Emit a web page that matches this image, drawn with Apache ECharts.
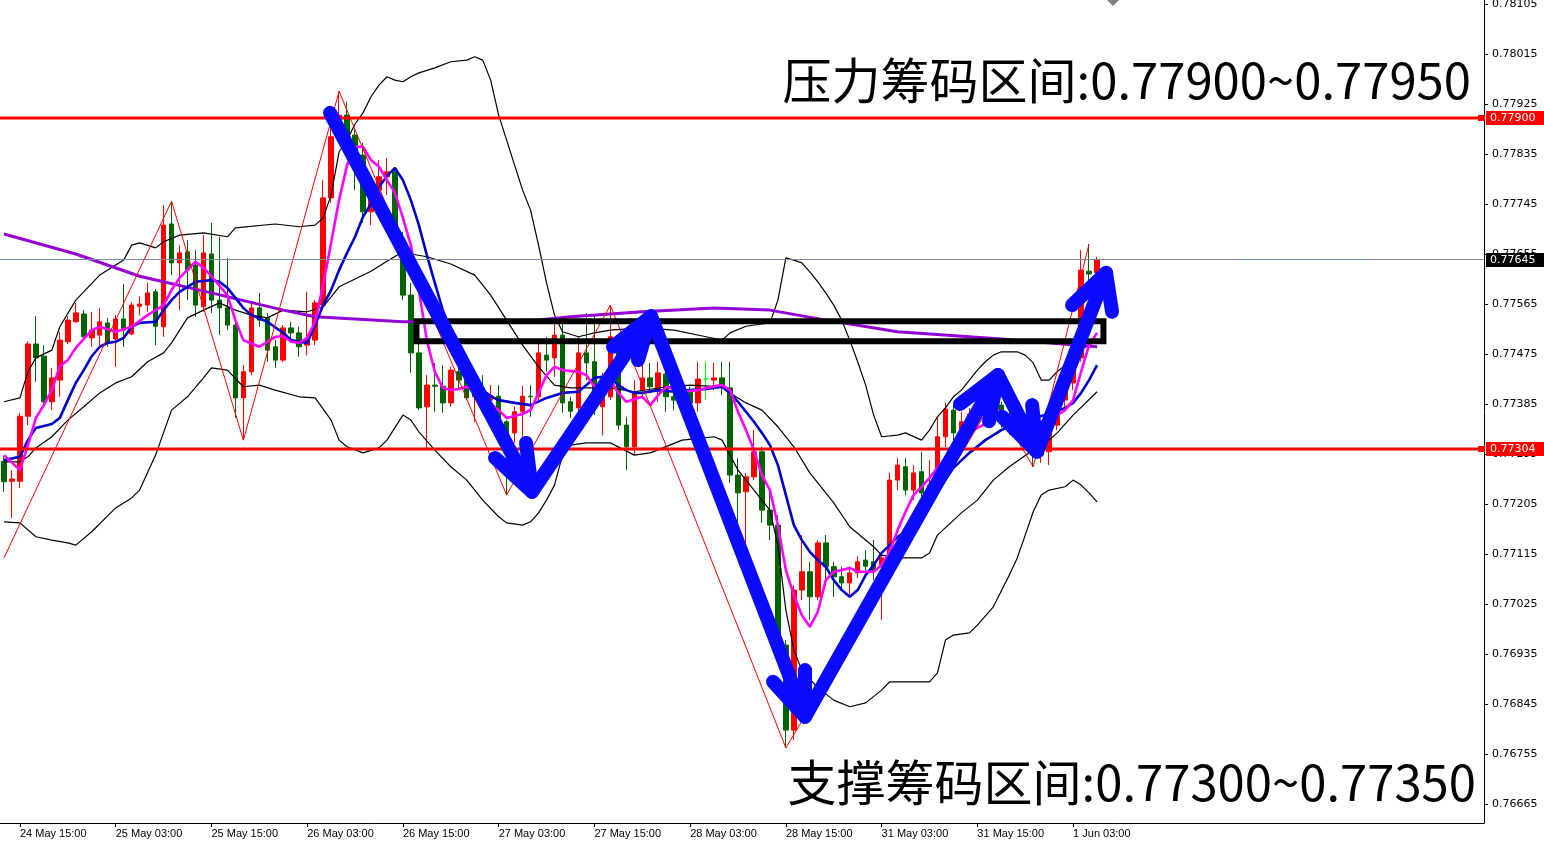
<!DOCTYPE html>
<html>
<head>
<meta charset="utf-8">
<title>AUDUSD H1</title>
<script src="https://cdn.jsdelivr.net/npm/echarts@6/dist/echarts.min.js"></script>
<style>
  html, body { margin: 0; padding: 0; background: #fff; }
  #chart { width: 1544px; height: 844px; }
</style>
</head>
<body>
<div id="chart"></div>
<script>
// bar slots on the x axis (bars + empty right shift area)
const N_SLOTS = 186;
const FIRST_TICK = 2;
const TICK_STEP = 12;
const timeLabels = ['24 May 15:00', '25 May 03:00', '25 May 15:00', '26 May 03:00', '26 May 15:00', '27 May 03:00',
  '27 May 15:00', '28 May 03:00', '28 May 15:00', '31 May 03:00', '31 May 15:00', '1 Jun 03:00'];

const yTicks = [0.78105, 0.78015, 0.77925, 0.77835, 0.77745, 0.77655, 0.77565, 0.77475, 0.77385,
  0.77295, 0.77205, 0.77115, 0.77025, 0.76935, 0.76845, 0.76755, 0.76665];
const Y_MIN = 0.766308;
const Y_MAX = 0.781122;

// OHLC, one entry per hourly bar
const open = [0.77282, 0.77246, 0.77246, 0.77363, 0.77493, 0.77471, 0.77389, 0.77428, 0.77497, 0.77533,
  0.77547, 0.77504, 0.77509, 0.77531, 0.77502, 0.77538, 0.77511, 0.77561, 0.77563, 0.77587,
  0.77524, 0.77709, 0.77639, 0.77659, 0.77635, 0.77560, 0.77655, 0.77572, 0.77558, 0.77527,
  0.77396, 0.77443, 0.77558, 0.77540, 0.77488, 0.77464, 0.77522, 0.77513, 0.77491, 0.77500,
  0.77563, 0.77756, 0.77866, 0.77905, 0.77869, 0.77833, 0.77731, 0.77770, 0.77794, 0.77803,
  0.77680, 0.77581, 0.77477, 0.77380, 0.77419, 0.77417, 0.77387, 0.77443, 0.77428, 0.77398,
  0.77414, 0.77392, 0.77399, 0.77353, 0.77333, 0.77371, 0.77399, 0.77398, 0.77473, 0.77468,
  0.77509, 0.77389, 0.77378, 0.77477, 0.77461, 0.77380, 0.77398, 0.77500, 0.77347, 0.77308,
  0.77410, 0.77432, 0.77410, 0.77439, 0.77398, 0.77392, 0.77407, 0.77387, 0.77430, 0.77428,
  0.77432, 0.77414, 0.77257, 0.77227, 0.77254, 0.77299, 0.77194, 0.77167, 0.76951, 0.76798,
  0.77050, 0.77083, 0.77038, 0.77135, 0.77092, 0.77074, 0.77063, 0.77081, 0.77104, 0.77101,
  0.77095, 0.77108, 0.77248, 0.77272, 0.77230, 0.77263, 0.77230, 0.77239, 0.77326, 0.77374,
  0.77333, 0.77353, 0.77367, 0.77378, 0.77360, 0.77383, 0.77356, 0.77342, 0.77356, 0.77311,
  0.77293, 0.77299, 0.77347, 0.77392, 0.77423, 0.77468, 0.77624, 0.77621];
const close = [0.77245, 0.77250, 0.77363, 0.77493, 0.77468, 0.77389, 0.77432, 0.77500, 0.77536, 0.77549,
  0.77506, 0.77518, 0.77533, 0.77495, 0.77538, 0.77518, 0.77563, 0.77565, 0.77585, 0.77525,
  0.77707, 0.77639, 0.77657, 0.77626, 0.77563, 0.77657, 0.77572, 0.77558, 0.77527, 0.77396,
  0.77443, 0.77558, 0.77536, 0.77482, 0.77464, 0.77522, 0.77513, 0.77488, 0.77500, 0.77567,
  0.77756, 0.77866, 0.77905, 0.77869, 0.77828, 0.77731, 0.77770, 0.77794, 0.77803, 0.77680,
  0.77581, 0.77477, 0.77378, 0.77419, 0.77417, 0.77387, 0.77446, 0.77428, 0.77396, 0.77414,
  0.77392, 0.77401, 0.77353, 0.77326, 0.77371, 0.77399, 0.77398, 0.77477, 0.77464, 0.77509,
  0.77387, 0.77372, 0.77477, 0.77459, 0.77378, 0.77399, 0.77506, 0.77347, 0.77308, 0.77405,
  0.77432, 0.77416, 0.77441, 0.77398, 0.77392, 0.77407, 0.77387, 0.77430, 0.77430, 0.77432,
  0.77416, 0.77257, 0.77225, 0.77254, 0.77299, 0.77194, 0.77167, 0.76951, 0.76798, 0.77050,
  0.77083, 0.77038, 0.77135, 0.77092, 0.77074, 0.77063, 0.77081, 0.77101, 0.77093, 0.77083,
  0.77108, 0.77248, 0.77275, 0.77230, 0.77261, 0.77225, 0.77239, 0.77326, 0.77376, 0.77333,
  0.77353, 0.77367, 0.77378, 0.77360, 0.77383, 0.77356, 0.77342, 0.77356, 0.77311, 0.77293,
  0.77302, 0.77347, 0.77392, 0.77423, 0.77468, 0.77626, 0.77619, 0.77645];
const low = [0.77227, 0.77180, 0.77234, 0.77347, 0.77425, 0.77385, 0.77374, 0.77398, 0.77493, 0.77531,
  0.77502, 0.77488, 0.77491, 0.77488, 0.77452, 0.77488, 0.77509, 0.77545, 0.77551, 0.77491,
  0.77506, 0.77617, 0.77554, 0.77572, 0.77542, 0.77551, 0.77549, 0.77509, 0.77518, 0.77360,
  0.77320, 0.77437, 0.77524, 0.77461, 0.77450, 0.77461, 0.77495, 0.77470, 0.77473, 0.77491,
  0.77558, 0.77747, 0.77857, 0.77851, 0.77770, 0.77711, 0.77707, 0.77761, 0.77761, 0.77671,
  0.77572, 0.77441, 0.77374, 0.77302, 0.77371, 0.77369, 0.77380, 0.77410, 0.77392, 0.77353,
  0.77374, 0.77360, 0.77347, 0.77221, 0.77315, 0.77326, 0.77362, 0.77392, 0.77443, 0.77434,
  0.77369, 0.77360, 0.77351, 0.77428, 0.77365, 0.77329, 0.77392, 0.77338, 0.77266, 0.77293,
  0.77396, 0.77407, 0.77389, 0.77371, 0.77374, 0.77383, 0.77374, 0.77371, 0.77392, 0.77410,
  0.77401, 0.77243, 0.77164, 0.77135, 0.77248, 0.77171, 0.77140, 0.76924, 0.76766, 0.76780,
  0.77032, 0.76996, 0.77032, 0.77068, 0.77038, 0.77050, 0.77038, 0.77072, 0.77083, 0.77068,
  0.76996, 0.77095, 0.77230, 0.77221, 0.77212, 0.77218, 0.77218, 0.77230, 0.77308, 0.77320,
  0.77320, 0.77342, 0.77356, 0.77347, 0.77353, 0.77342, 0.77329, 0.77335, 0.77302, 0.77272,
  0.77279, 0.77275, 0.77338, 0.77378, 0.77410, 0.77461, 0.77590, 0.77608];
const high = [0.77291, 0.77266, 0.77369, 0.77498, 0.77543, 0.77491, 0.77450, 0.77515, 0.77543, 0.77567,
  0.77554, 0.77551, 0.77558, 0.77540, 0.77545, 0.77601, 0.77569, 0.77579, 0.77603, 0.77592,
  0.77743, 0.77750, 0.77671, 0.77680, 0.77662, 0.77689, 0.77711, 0.77686, 0.77648, 0.77540,
  0.77455, 0.77567, 0.77585, 0.77549, 0.77500, 0.77527, 0.77533, 0.77524, 0.77587, 0.77572,
  0.77788, 0.77909, 0.77948, 0.77929, 0.77882, 0.77855, 0.77779, 0.77824, 0.77828, 0.77810,
  0.77695, 0.77603, 0.77495, 0.77437, 0.77459, 0.77455, 0.77452, 0.77464, 0.77434, 0.77437,
  0.77437, 0.77419, 0.77419, 0.77356, 0.77380, 0.77417, 0.77419, 0.77495, 0.77506, 0.77531,
  0.77542, 0.77398, 0.77506, 0.77549, 0.77545, 0.77441, 0.77563, 0.77509, 0.77362, 0.77428,
  0.77459, 0.77459, 0.77461, 0.77459, 0.77419, 0.77425, 0.77416, 0.77461, 0.77461, 0.77459,
  0.77461, 0.77461, 0.77288, 0.77261, 0.77338, 0.77308, 0.77230, 0.77185, 0.76960, 0.77059,
  0.77149, 0.77101, 0.77140, 0.77149, 0.77101, 0.77092, 0.77092, 0.77111, 0.77122, 0.77140,
  0.77119, 0.77261, 0.77288, 0.77288, 0.77275, 0.77299, 0.77284, 0.77360, 0.77387, 0.77383,
  0.77371, 0.77378, 0.77385, 0.77387, 0.77392, 0.77389, 0.77371, 0.77374, 0.77365, 0.77320,
  0.77320, 0.77356, 0.77407, 0.77432, 0.77482, 0.77662, 0.77673, 0.77650];

// indicators: [bar index, price]
const maSlow = [[0, 0.77691], [9, 0.77655], [17, 0.77615], [26, 0.77585], [35, 0.77554], [39, 0.77542],
  [50, 0.77533], [60, 0.77533], [67, 0.77536], [71, 0.77542], [80, 0.77551], [89, 0.77558], [96, 0.77554],
  [103, 0.77536], [112, 0.77515], [125, 0.77502], [137, 0.77488]];
const maFast = [[0, 0.77293], [2, 0.77266], [3, 0.77311], [4, 0.77360], [5, 0.77383], [6, 0.77410], [7, 0.77453],
  [8, 0.77464], [9, 0.77486], [11, 0.77518], [12, 0.77524], [14, 0.77515], [16, 0.77524], [18, 0.77545],
  [20, 0.77563], [21, 0.77590], [22, 0.77612], [24, 0.77641], [25, 0.77630], [26, 0.77615], [28, 0.77581],
  [29, 0.77536], [30, 0.77500], [32, 0.77488], [34, 0.77506], [35, 0.77507], [36, 0.77497], [37, 0.77495],
  [38, 0.77504], [39, 0.77533], [40, 0.77599], [41, 0.77675], [42, 0.77752], [43, 0.77815], [44, 0.77848],
  [45, 0.77848], [46, 0.77824], [47, 0.77812], [48, 0.77788], [49, 0.77765], [50, 0.77720], [51, 0.77671],
  [52, 0.77590], [53, 0.77500], [54, 0.77443], [55, 0.77414], [56, 0.77410], [57, 0.77412], [58, 0.77416],
  [60, 0.77396], [62, 0.77374], [63, 0.77360], [65, 0.77367], [66, 0.77374], [67, 0.77405], [68, 0.77437],
  [69, 0.77452], [70, 0.77446], [72, 0.77443], [73, 0.77437], [74, 0.77416], [75, 0.77423], [76, 0.77428],
  [77, 0.77405], [78, 0.77389], [80, 0.77398], [81, 0.77383], [82, 0.77401], [83, 0.77416], [85, 0.77407],
  [87, 0.77410], [89, 0.77417], [90, 0.77419], [91, 0.77410], [92, 0.77371], [93, 0.77338], [94, 0.77302],
  [95, 0.77257], [96, 0.77230], [97, 0.77167], [98, 0.77086], [99, 0.77041], [100, 0.77005], [101, 0.76984],
  [102, 0.77011], [103, 0.77068], [104, 0.77083], [105, 0.77086], [106, 0.77090], [107, 0.77083], [109, 0.77083],
  [110, 0.77095], [111, 0.77119], [112, 0.77158], [113, 0.77191], [114, 0.77221], [115, 0.77236], [116, 0.77252],
  [117, 0.77270], [118, 0.77288], [119, 0.77302], [120, 0.77318], [121, 0.77333], [122, 0.77342], [123, 0.77349],
  [124, 0.77360], [125, 0.77362], [127, 0.77354], [129, 0.77351], [131, 0.77356], [133, 0.77374], [134, 0.77392],
  [135, 0.77443], [136, 0.77491], [137, 0.77513]];
const maMid = [[0, 0.77284], [2, 0.77290], [3, 0.77320], [4, 0.77342], [6, 0.77349], [7, 0.77360], [8, 0.77392],
  [9, 0.77423], [10, 0.77446], [11, 0.77471], [12, 0.77488], [13, 0.77495], [14, 0.77497], [15, 0.77504],
  [16, 0.77524], [17, 0.77531], [19, 0.77533], [20, 0.77554], [21, 0.77572], [22, 0.77587], [24, 0.77605],
  [26, 0.77608], [27, 0.77605], [28, 0.77594], [29, 0.77576], [30, 0.77558], [31, 0.77545], [33, 0.77533],
  [35, 0.77513], [36, 0.77500], [37, 0.77497], [38, 0.77495], [39, 0.77527], [40, 0.77563], [41, 0.77590],
  [42, 0.77626], [43, 0.77657], [44, 0.77686], [45, 0.77722], [46, 0.77745], [47, 0.77776], [48, 0.77795],
  [49, 0.77810], [50, 0.77788], [51, 0.77752], [52, 0.77707], [53, 0.77653], [54, 0.77603], [55, 0.77554],
  [56, 0.77518], [57, 0.77482], [58, 0.77450], [59, 0.77426], [60, 0.77410], [61, 0.77399], [62, 0.77392],
  [64, 0.77387], [66, 0.77383], [68, 0.77396], [70, 0.77405], [72, 0.77407], [73, 0.77419], [74, 0.77432],
  [75, 0.77434], [76, 0.77432], [77, 0.77419], [78, 0.77410], [79, 0.77405], [80, 0.77405], [82, 0.77410],
  [84, 0.77407], [86, 0.77410], [88, 0.77412], [90, 0.77416], [91, 0.77405], [92, 0.77389], [93, 0.77371],
  [94, 0.77353], [95, 0.77333], [96, 0.77311], [97, 0.77275], [98, 0.77221], [99, 0.77167], [100, 0.77140],
  [101, 0.77119], [102, 0.77104], [103, 0.77092], [104, 0.77068], [105, 0.77050], [106, 0.77038], [107, 0.77050],
  [108, 0.77077], [109, 0.77095], [110, 0.77117], [111, 0.77131], [112, 0.77146], [113, 0.77155], [115, 0.77180],
  [117, 0.77227], [119, 0.77270], [121, 0.77297], [123, 0.77320], [125, 0.77338], [127, 0.77351], [129, 0.77360],
  [131, 0.77367], [133, 0.77378], [134, 0.77387], [135, 0.77405], [136, 0.77428], [137, 0.77455]];
const bandUpper = [[0, 0.77389], [2, 0.77396], [3, 0.77443], [4, 0.77468], [6, 0.77482], [7, 0.77524], [9, 0.77572],
  [12, 0.77617], [14, 0.77635], [15, 0.77644], [16, 0.77671], [17, 0.77675], [19, 0.77666], [20, 0.77677],
  [22, 0.77689], [25, 0.77693], [28, 0.77686], [29, 0.77702], [34, 0.77709], [37, 0.77704], [39, 0.77707],
  [40, 0.77720], [41, 0.77761], [42, 0.77839], [43, 0.77860], [44, 0.77889], [45, 0.77909], [46, 0.77938],
  [47, 0.77959], [48, 0.77974], [49, 0.77968], [50, 0.77965], [51, 0.77974], [52, 0.77981], [54, 0.77990],
  [56, 0.78001], [58, 0.78004], [59, 0.78010], [60, 0.78004], [61, 0.77968], [62, 0.77905], [63, 0.77860],
  [64, 0.77815], [65, 0.77770], [66, 0.77734], [67, 0.77671], [68, 0.77603], [69, 0.77545], [70, 0.77515],
  [72, 0.77506], [74, 0.77513], [76, 0.77518], [80, 0.77522], [84, 0.77518], [88, 0.77506], [90, 0.77500],
  [91, 0.77513], [93, 0.77525], [95, 0.77529], [96, 0.77531], [97, 0.77572], [98, 0.77648], [99, 0.77644],
  [100, 0.77639], [101, 0.77623], [102, 0.77605], [103, 0.77585], [104, 0.77563], [105, 0.77536], [106, 0.77500],
  [107, 0.77461], [108, 0.77419], [109, 0.77365], [110, 0.77326], [112, 0.77329], [113, 0.77333], [115, 0.77320],
  [116, 0.77338], [117, 0.77362], [118, 0.77378], [119, 0.77398], [120, 0.77410], [121, 0.77428], [122, 0.77446],
  [123, 0.77461], [124, 0.77473], [125, 0.77479], [127, 0.77479], [128, 0.77473], [129, 0.77459], [130, 0.77428],
  [131, 0.77428], [132, 0.77443], [133, 0.77455], [135, 0.77482], [137, 0.77500]];
const bandMiddle = [[0, 0.77281], [2, 0.77281], [3, 0.77290], [4, 0.77306], [6, 0.77326], [8, 0.77356], [10, 0.77380],
  [12, 0.77405], [14, 0.77423], [16, 0.77434], [18, 0.77461], [20, 0.77477], [21, 0.77495], [23, 0.77540],
  [25, 0.77554], [27, 0.77567], [29, 0.77554], [31, 0.77545], [33, 0.77540], [35, 0.77554], [38, 0.77551],
  [40, 0.77560], [42, 0.77596], [44, 0.77610], [46, 0.77624], [48, 0.77642], [50, 0.77659], [51, 0.77655],
  [53, 0.77650], [56, 0.77637], [59, 0.77617], [61, 0.77581], [63, 0.77536], [65, 0.77491], [67, 0.77452],
  [69, 0.77419], [71, 0.77414], [76, 0.77414], [79, 0.77407], [83, 0.77416], [86, 0.77419], [90, 0.77416],
  [91, 0.77405], [93, 0.77387], [95, 0.77374], [97, 0.77344], [99, 0.77308], [101, 0.77261], [104, 0.77207],
  [106, 0.77164], [109, 0.77128], [110, 0.77113], [112, 0.77108], [115, 0.77108], [116, 0.77117], [117, 0.77149],
  [120, 0.77189], [122, 0.77212], [124, 0.77248], [126, 0.77272], [129, 0.77302], [131, 0.77320], [132, 0.77333],
  [134, 0.77365], [137, 0.77407]];
const bandLower = [[0, 0.77173], [2, 0.77171], [4, 0.77146], [6, 0.77140], [8, 0.77135], [9, 0.77131], [11, 0.77155],
  [14, 0.77198], [16, 0.77216], [17, 0.77230], [19, 0.77293], [21, 0.77374], [23, 0.77398], [25, 0.77432],
  [26, 0.77450], [28, 0.77446], [30, 0.77416], [32, 0.77419], [34, 0.77410], [37, 0.77398], [39, 0.77396],
  [41, 0.77356], [42, 0.77320], [43, 0.77308], [45, 0.77297], [47, 0.77306], [48, 0.77320], [50, 0.77365],
  [51, 0.77356], [52, 0.77335], [54, 0.77302], [56, 0.77272], [58, 0.77248], [60, 0.77212], [62, 0.77182],
  [63, 0.77171], [65, 0.77167], [66, 0.77173], [67, 0.77189], [68, 0.77212], [69, 0.77239], [70, 0.77293],
  [71, 0.77311], [73, 0.77315], [76, 0.77315], [79, 0.77293], [81, 0.77297], [85, 0.77320], [89, 0.77326],
  [90, 0.77320], [91, 0.77293], [92, 0.77266], [93, 0.77248], [94, 0.77230], [95, 0.77212], [96, 0.77194],
  [97, 0.77131], [98, 0.77014], [99, 0.76942], [100, 0.76906], [102, 0.76874], [104, 0.76852], [106, 0.76840],
  [108, 0.76847], [110, 0.76870], [111, 0.76885], [113, 0.76885], [116, 0.76885], [117, 0.76901], [118, 0.76960],
  [119, 0.76969], [121, 0.76973], [122, 0.76987], [124, 0.77020], [126, 0.77077], [127, 0.77108], [128, 0.77149],
  [129, 0.77191], [130, 0.77221], [131, 0.77230], [133, 0.77236], [134, 0.77248], [135, 0.77239], [136, 0.77225],
  [137, 0.77209]];
const zigzag = [[0, 0.77108], [21, 0.77750], [30, 0.77320], [42, 0.77948], [63, 0.77221], [76, 0.77563],
  [98, 0.76766], [124, 0.77392], [129, 0.77272], [136, 0.77673]];

// drawn annotations
const RESIST_LEVEL = 0.77900;
const SUPPORT_LEVEL = 0.77304;
const LAST_PRICE = 0.77645;
const boxX = [51.7, 137.8];
const boxY = [0.77534, 0.77498];
const arrowPath = [[40.86, 0.77909], [66.18, 0.77227], [81.10, 0.77543], [100.40, 0.76822],
  [124.59, 0.77437], [129.48, 0.77299], [138.13, 0.77621]];
const arrowHeads = [
  [[61.55, 0.77288], [66.18, 0.77227], [65.43, 0.77315]],
  [[76.34, 0.77488], [81.10, 0.77543], [79.47, 0.77464]],
  [[96.39, 0.76885], [100.40, 0.76822], [100.40, 0.76906]],
  [[119.83, 0.77385], [124.59, 0.77437], [123.47, 0.77354]],
  [[125.10, 0.77362], [129.48, 0.77299], [128.86, 0.77383]],
  [[133.87, 0.77563], [138.13, 0.77621], [138.88, 0.77551]]
];
const resistText = '压力筹码区间:0.77900~0.77950';
const supportText = '支撑筹码区间:0.77300~0.77350';

const slots = Array.from({ length: N_SLOTS }, (_, i) => String(i));
const isTickSlot = (idx) => idx >= FIRST_TICK && (idx - FIRST_TICK) % TICK_STEP === 0
  && (idx - FIRST_TICK) / TICK_STEP < timeLabels.length;
const X_LO = -0.5;
const X_HI = N_SLOTS - 0.5;

const candleData = open.map((o, i) => {
  const item = { value: [o, close[i], low[i], high[i]] };
  if (o === close[i]) {
    item.itemStyle = { color: '#00ff00', color0: '#00ff00', borderColor: '#00ff00', borderColor0: '#00ff00' };
  }
  return item;
});

function overlay(name, data, color, width, z, extra) {
  return Object.assign({
    name: name,
    type: 'line',
    xAxisIndex: 1,
    yAxisIndex: 0,
    data: data,
    symbol: 'none',
    silent: true,
    z: z,
    lineStyle: { color: color, width: width }
  }, extra || {});
}

const arrowStyle = { color: '#0a0aff', width: 14, cap: 'round', join: 'round' };

const series = [
  {
    type: 'candlestick',
    xAxisIndex: 0,
    data: candleData,
    barWidth: 5,
    z: 2,
    silent: true,
    itemStyle: {
      color: '#ff0000', color0: '#006400',
      borderColor: '#ff0000', borderColor0: '#006400', borderWidth: 1
    }
  },
  overlay('bandUpper', bandUpper, '#000000', 1.2, 3),
  overlay('bandMiddle', bandMiddle, '#000000', 1.2, 3),
  overlay('bandLower', bandLower, '#000000', 1.2, 3),
  overlay('maSlow', maSlow, '#9400d3', 3, 3),
  overlay('maMid', maMid, '#0000cd', 2.6, 4),
  overlay('maFast', maFast, '#ff00ff', 2.6, 4),
  overlay('zigzag', zigzag, '#ff0000', 1, 5),
  overlay('lastPrice', [[X_LO, LAST_PRICE], [X_HI, LAST_PRICE]], '#778899', 1, 5),
  overlay('resistance', [[X_LO, RESIST_LEVEL], [X_HI, RESIST_LEVEL]], '#ff0000', 3, 6),
  overlay('support', [[X_LO, SUPPORT_LEVEL], [X_HI, SUPPORT_LEVEL]], '#ff0000', 3, 6),
  overlay('box', [[boxX[0], boxY[0]], [boxX[1], boxY[0]], [boxX[1], boxY[1]], [boxX[0], boxY[1]], [boxX[0], boxY[0]]],
    '#000000', 6, 7, { lineStyle: { color: '#000000', width: 6, join: 'miter', cap: 'square' } }),
  overlay('arrowPath', arrowPath, '#0a0aff', 14, 8, { lineStyle: arrowStyle })
];
arrowHeads.forEach((h, k) => {
  series.push(overlay('arrowHead' + k, h, '#0a0aff', 14, 8, { lineStyle: arrowStyle }));
});

const chart = echarts.init(document.getElementById('chart'), null, { width: 1544, height: 844 });
chart.setOption({
  animation: false,
  backgroundColor: '#ffffff',
  textStyle: { fontFamily: 'DejaVu Sans' },
  grid: { left: 0, right: 60, top: 0, bottom: 21, containLabel: false, outerBoundsMode: 'none' },
  xAxis: [
    {
      type: 'category',
      data: slots,
      boundaryGap: true,
      axisLine: { show: true, onZero: false, lineStyle: { color: '#000000', width: 1 } },
      axisTick: { show: true, alignWithLabel: true, interval: isTickSlot, length: 4, lineStyle: { color: '#000000' } },
      axisLabel: {
        interval: isTickSlot,
        formatter: (v, idx) => timeLabels[(idx - FIRST_TICK) / TICK_STEP] || '',
        align: 'left',
        margin: 5,
        color: '#000000',
        fontSize: 11,
        fontFamily: '"Liberation Sans Narrow", "Liberation Sans", sans-serif'
      },
      splitLine: { show: false }
    },
    { type: 'value', min: X_LO, max: X_HI, show: false, axisLine: { onZero: false } }
  ],
  yAxis: {
    type: 'value',
    position: 'right',
    min: Y_MIN,
    max: Y_MAX,
    axisLine: { show: true, onZero: false, lineStyle: { color: '#000000', width: 1 } },
    axisTick: { show: true, customValues: yTicks, length: 4, lineStyle: { color: '#000000' } },
    axisLabel: {
      customValues: yTicks,
      formatter: (v) => v.toFixed(5),
      margin: 8,
      color: '#000000',
      fontSize: 11,
      fontFamily: 'DejaVu Sans'
    },
    splitLine: { show: false }
  },
  series: series
});

// price tags on the right axis, placed through the y scale
const graphics = [
  {
    type: 'polygon', z: 50,
    shape: { points: [[1107, 0], [1119, 0], [1113, 6]] },
    style: { fill: '#7f7f7f' }
  },
  {
    type: 'text', z: 100, x: 1471, y: 80,
    style: {
      text: resistText, fill: '#000000', font: '49px "Noto Sans CJK SC"',
      align: 'right', verticalAlign: 'middle'
    }
  },
  {
    type: 'text', z: 100, x: 1476, y: 782,
    style: {
      text: supportText, fill: '#000000', font: '49px "Noto Sans CJK SC"',
      align: 'right', verticalAlign: 'middle'
    }
  }
];
[[RESIST_LEVEL, '#ff0000', true], [SUPPORT_LEVEL, '#ff0000', true], [LAST_PRICE, '#000000', false]].forEach((t) => {
  const y = Math.round(chart.convertToPixel({ yAxisIndex: 0 }, t[0]));
  const axisX = Math.round(chart.convertToPixel({ xAxisIndex: 1 }, X_HI));
  if (t[2]) {
    graphics.push({ type: 'rect', z: 60, shape: { x: axisX - 6, y: y - 3, width: 7, height: 6 }, style: { fill: t[1] } });
  }
  graphics.push({ type: 'rect', z: 60, shape: { x: axisX + 2, y: y - 7, width: 1544 - axisX - 2, height: 14 }, style: { fill: t[1] } });
  graphics.push({
    type: 'text', z: 61, x: axisX + 6, y: y,
    style: { text: t[0].toFixed(5), fill: '#ffffff', font: '11px "DejaVu Sans"', verticalAlign: 'middle' }
  });
});
chart.setOption({ graphic: graphics });
</script>
</body>
</html>
